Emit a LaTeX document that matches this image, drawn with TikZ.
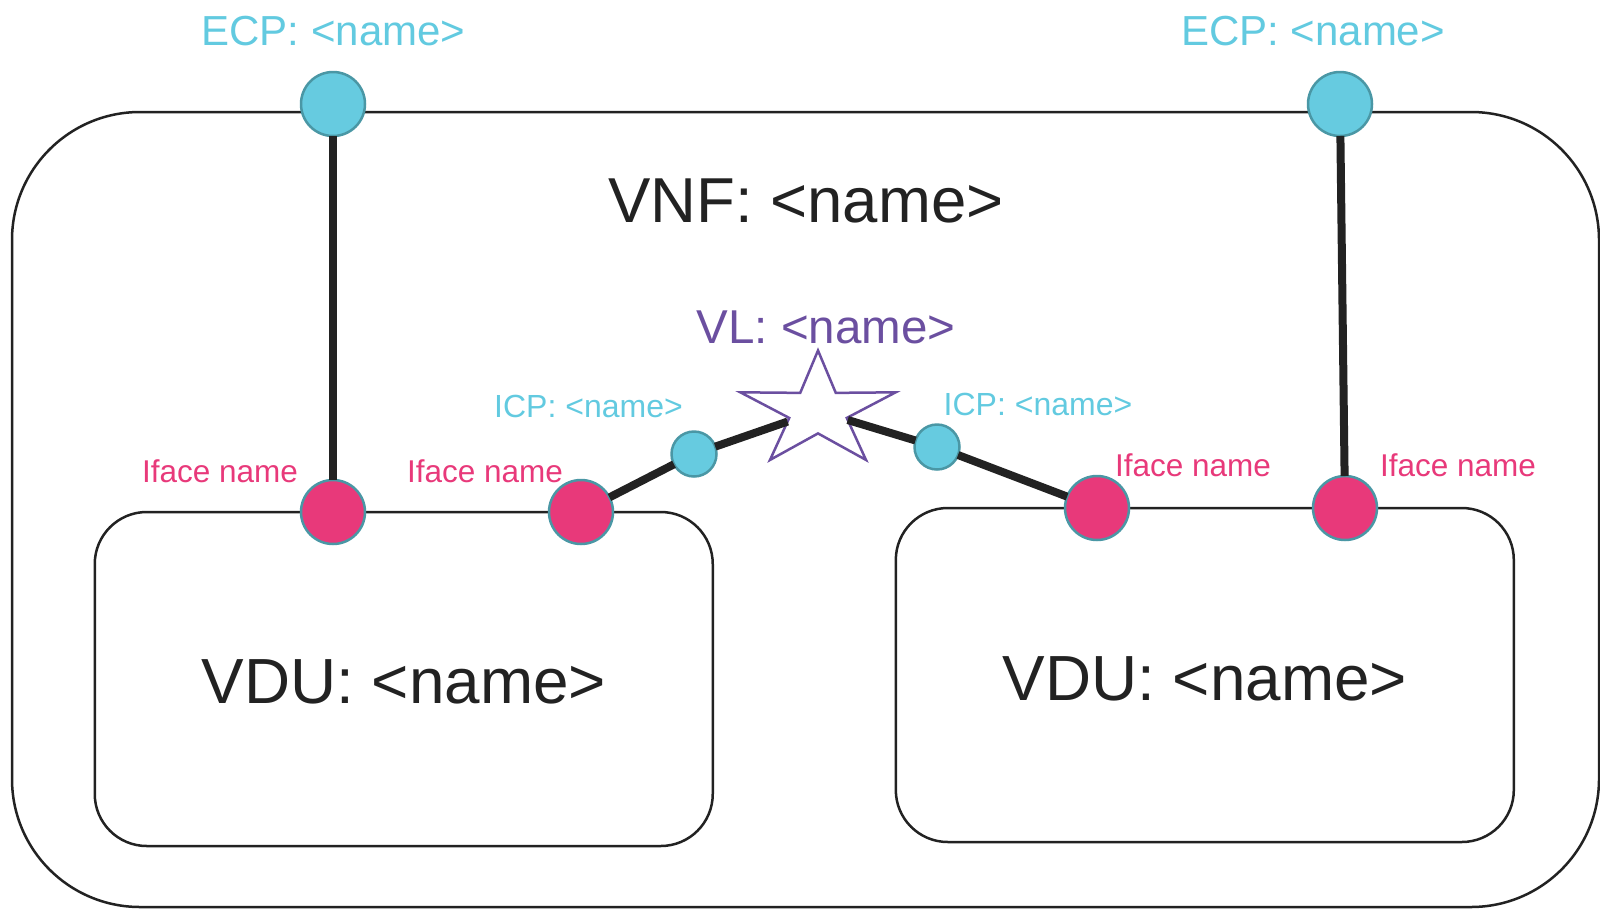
\documentclass[tikz,border=0pt]{standalone}
\usepackage{fontspec}
\setmainfont{Liberation Sans}
\usepackage{xcolor}
\usepackage{tikz}
\usetikzlibrary{shapes.geometric}
\definecolor{cpfill}{HTML}{66CBE0}
\definecolor{cpline}{HTML}{4A97A5}
\definecolor{iffill}{HTML}{E8397A}
\definecolor{cptext}{HTML}{62CAE0}
\definecolor{vlcol}{HTML}{6B4FA0}
\definecolor{dark}{HTML}{222222}
\newcommand{\nametag}{\textless name\textgreater}

\begin{document}
\begin{tikzpicture}[x=1pt,y=-1pt,
	box/.style={draw=dark,line width=2.5pt,inner sep=0pt,outer sep=0pt},
	port/.style={circle,draw=cpline,line width=2.5pt,inner sep=0pt,outer sep=0pt},
	ecp/.style={port,fill=cpfill,minimum size=64pt},
	icp/.style={port,fill=cpfill,minimum size=45pt},
	iface/.style={port,fill=iffill,minimum size=64pt},
	wire/.style={draw=dark,line width=8pt},
	txt/.style={anchor=base,inner sep=0pt}]
	\clip (0,0) rectangle (1600,908);
	\useasboundingbox (0,0) rectangle (1600,908);
	% boxes
	\node[box,rounded corners=128pt,minimum width=1587pt,minimum height=795pt] (vnf) at (805.5,509.5) {};
	\node[box,rounded corners=52pt,minimum width=618pt,minimum height=334pt] (vduL) at (403.75,679) {};
	\node[box,rounded corners=52pt,minimum width=618pt,minimum height=334pt] (vduR) at (1204.8,675) {};
	\node[txt,text=dark,font=\fontsize{63.5}{70}\selectfont] (vnflabel) at (806,222) {VNF: \nametag};
	\node[txt,text=dark,font=\fontsize{63.8}{70}\selectfont] (vduLlabel) at (404,703) {VDU: \nametag};
	\node[txt,text=dark,font=\fontsize{63.8}{70}\selectfont] (vduRlabel) at (1205,700) {VDU: \nametag};
	% connection points
	\node[ecp] (ecpL) at (333,104) {};
	\node[ecp] (ecpR) at (1340,104) {};
	\node[iface] (ifA) at (333,512) {};
	\node[iface] (ifB) at (581,512) {};
	\node[iface] (ifC) at (1097,508) {};
	\node[iface] (ifD) at (1345,508) {};
	\node[icp] (icpL) at (694,454) {};
	\node[icp] (icpR) at (937,447) {};
	\node[star,star points=5,star point ratio=2.7,minimum size=121pt,inner sep=0pt,outer sep=0pt,
		draw=vlcol,line width=2.5pt,fill=white,xscale=1.35] (vl) at (818,411) {};
	% links
	\draw[wire] (ecpL) -- (ifA);
	\draw[wire] (ecpR) -- (ifD);
	\draw[wire] (ifB) -- (icpL) -- (vl);
	\draw[wire] (vl) -- (icpR) -- (ifC);
	% labels
	\node[txt,text=cptext,font=\fontsize{42}{50}\selectfont] (ecpLlabel) at (333.5,45) {ECP: \nametag};
	\node[txt,text=cptext,font=\fontsize{42}{50}\selectfont] (ecpRlabel) at (1313,45) {ECP: \nametag};
	\node[txt,text=vlcol,font=\fontsize{47.5}{55}\selectfont] (vllabel) at (826,343) {VL: \nametag};
	\node[txt,text=cptext,font=\fontsize{32}{38}\selectfont] (icpLlabel) at (588.5,417) {ICP: \nametag};
	\node[txt,text=cptext,font=\fontsize{32}{38}\selectfont] (icpRlabel) at (1038,415) {ICP: \nametag};
	\node[txt,text=iffill,font=\fontsize{31.5}{38}\selectfont] (ifAlabel) at (220,482) {Iface name};
	\node[txt,text=iffill,font=\fontsize{31.5}{38}\selectfont] (ifBlabel) at (485,482) {Iface name};
	\node[txt,text=iffill,font=\fontsize{31.5}{38}\selectfont] (ifClabel) at (1193,476) {Iface name};
	\node[txt,text=iffill,font=\fontsize{31.5}{38}\selectfont] (ifDlabel) at (1458,476) {Iface name};
\end{tikzpicture}
\end{document}
